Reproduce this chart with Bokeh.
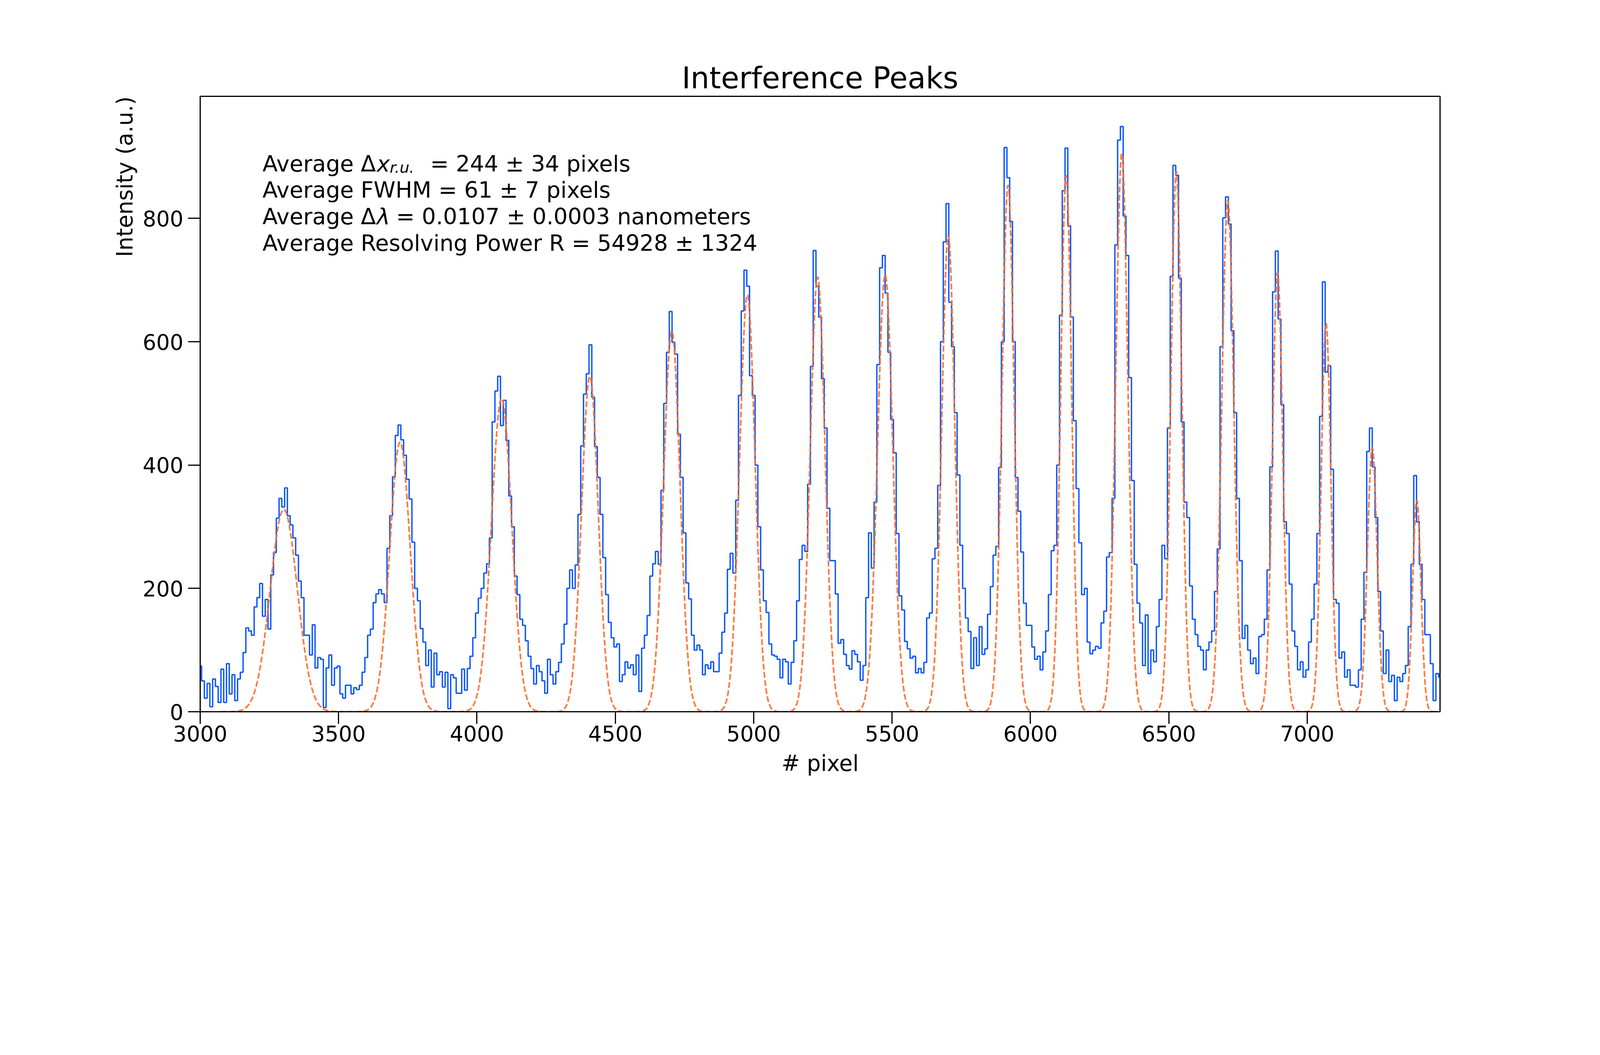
import numpy as np
from bokeh.plotting import figure
from bokeh.models import Range1d, SingleIntervalTicker, Label, Title
from bokeh.embed import file_html
from bokeh.resources import INLINE

pixel_start = 3000
pixel_step = 10
intensity = [
    74, 50, 22, 46, 8, 53, 41, 15, 69, 15,
    78, 29, 60, 18, 53, 64, 96, 136, 131, 124,
    170, 185, 208, 155, 182, 134, 222, 258, 314, 346,
    332, 363, 318, 303, 282, 254, 212, 185, 124, 124,
    92, 141, 71, 88, 85, 7, 71, 92, 43, 71,
    74, 29, 22, 43, 43, 29, 39, 36, 43, 64,
    88, 124, 134, 177, 191, 198, 191, 177, 265, 318,
    381, 448, 465, 441, 416, 377, 345, 275, 200, 180,
    135, 113, 75, 100, 40, 95, 60, 65, 40, 64,
    5, 60, 55, 30, 30, 69, 35, 70, 90, 120,
    160, 184, 200, 225, 240, 282, 470, 520, 544, 464,
    505, 440, 350, 300, 220, 190, 150, 140, 115, 90,
    70, 45, 75, 65, 50, 30, 85, 60, 45, 65,
    80, 110, 142, 200, 230, 200, 238, 320, 431, 515,
    548, 595, 510, 430, 380, 320, 250, 190, 145, 120,
    105, 110, 49, 60, 81, 71, 76, 60, 92, 33,
    103, 124, 156, 220, 240, 260, 239, 359, 500, 583,
    649, 599, 580, 450, 380, 290, 209, 183, 124, 100,
    108, 100, 60, 76, 70, 81, 65, 65, 95, 129,
    160, 231, 257, 225, 343, 513, 650, 716, 690, 545,
    513, 400, 300, 230, 180, 161, 110, 92, 90, 85,
    55, 85, 81, 45, 80, 115, 180, 247, 270, 260,
    369, 560, 748, 690, 640, 540, 460, 330, 245, 245,
    191, 111, 117, 93, 75, 69, 99, 93, 81, 51,
    75, 185, 290, 233, 340, 563, 720, 740, 679, 583,
    474, 420, 289, 188, 165, 114, 102, 87, 90, 63,
    70, 63, 80, 152, 160, 248, 265, 367, 600, 762,
    824, 664, 592, 485, 384, 270, 200, 152, 130, 70,
    120, 75, 138, 93, 102, 158, 203, 254, 268, 396,
    600, 915, 866, 795, 600, 380, 325, 259, 176, 140,
    140, 105, 85, 90, 68, 97, 131, 190, 261, 270,
    400, 643, 845, 914, 788, 640, 472, 362, 274, 190,
    200, 113, 94, 100, 106, 103, 144, 163, 251, 258,
    346, 757, 927, 949, 804, 740, 542, 375, 239, 176,
    144, 75, 157, 62, 100, 81, 138, 182, 270, 248,
    460, 706, 886, 870, 703, 470, 340, 315, 204, 150,
    125, 106, 100, 68, 100, 113, 131, 195, 264, 592,
    801, 835, 791, 618, 485, 346, 245, 119, 140, 100,
    78, 87, 62, 122, 125, 150, 230, 397, 681, 747,
    637, 498, 308, 289, 207, 131, 106, 68, 81, 56,
    68, 113, 150, 207, 289, 479, 697, 551, 561, 393,
    182, 176, 87, 97, 56, 68, 43, 43, 40, 68,
    150, 226, 422, 460, 397, 315, 195, 131, 62, 100,
    49, 59, 18, 56, 49, 62, 75, 138, 239, 383,
    308, 239, 182, 125, 125, 78, 18, 62, 56,
]

# gaussian fit of each fringe (center, height, sigma)
peak_center = [3302, 3722, 4089, 4408, 4704, 4977, 5231, 5475, 5703,
               5919, 6129, 6330, 6527, 6713, 6893, 7068, 7235, 7396]
peak_height = [328, 437, 508, 544, 617, 676, 705, 708, 772,
               854, 870, 905, 876, 829, 712, 630, 428, 343]
peak_sigma = [49, 37, 36.6, 30, 29.6, 28, 26.7, 27.6, 23.6,
              22, 19.6, 21.7, 19.6, 21.7, 18.6, 17.5, 17.5, 15]
fit_start = 3076

x_start, x_end = 3000, 7480
y_start, y_end = 0, 998

FONT = "DejaVu Sans"
BLUE = "#0a55ff"
ORANGE = "#ff6b2b"

# the browser page is narrower in css px than the 5400 px photo,
# so everything measured on the reference is scaled by S
S = 4096 / 5400
W = round(5400 * S) - 16
H = round(2700 * S) - 16


def fs(v):
    return "%.1fpx" % (v * S)


x = pixel_start + pixel_step * np.arange(len(intensity))

xf = np.arange(fit_start, x_end + 1, 1.0)
yf = np.zeros_like(xf)
for c, h, s in zip(peak_center, peak_height, peak_sigma):
    yf += h * np.exp(-(xf - c) ** 2 / (2.0 * s ** 2))

p = figure(width=W, height=H, title="Interference Peaks",
           x_range=Range1d(x_start, x_end), y_range=Range1d(y_start, y_end),
           output_backend="svg", toolbar_location=None,
           min_border_left=round(675 * S),
           min_border_right=W - round(4860 * S),
           min_border_top=round(324 * S),
           min_border_bottom=H - round(2401 * S))

p.step(x, intensity, mode="center", line_color=BLUE, line_width=4.6 * S)
p.line(xf, yf, line_color=ORANGE, line_width=5.6 * S, line_dash="15 6", line_alpha=0.9)

p.title.text_font = FONT
p.title.text_font_size = fs(100)
p.title.text_font_style = "normal"
p.title.text_color = "black"
p.title.align = "center"
p.title.standoff = round(8 * S)

p.xgrid.visible = False
p.ygrid.visible = False
p.outline_line_color = "black"
p.outline_line_width = 4 * S

p.xaxis.ticker = SingleIntervalTicker(interval=500, num_minor_ticks=0)
p.yaxis.ticker = SingleIntervalTicker(interval=200, num_minor_ticks=0)
for ax in (p.xaxis[0], p.yaxis[0]):
    ax.axis_line_color = "black"
    ax.axis_line_width = 4 * S
    ax.major_tick_line_width = 4 * S
    ax.major_tick_out = round(41 * S)
    ax.major_tick_in = 0
    ax.minor_tick_out = 0
    ax.minor_tick_in = 0
    ax.major_label_text_font = FONT
    ax.major_label_text_font_size = fs(72)
    ax.major_label_text_color = "black"
p.xaxis.major_label_standoff = round(5 * S)
p.yaxis.major_label_standoff = round(16 * S)

p.xaxis.axis_label = "# pixel"
p.xaxis.axis_label_text_font = FONT
p.xaxis.axis_label_text_font_size = fs(74)
p.xaxis.axis_label_text_font_style = "normal"
p.xaxis.axis_label_text_color = "black"
p.xaxis.axis_label_standoff = round(28 * S)

# y label sits at the top end of the axis
p.add_layout(Title(text="Intensity (a.u.)", align="right", text_font=FONT,
                   text_font_size=fs(74), text_font_style="normal",
                   text_color="black", standoff=round(28 * S)), "left")

# statistics block (data coordinates)
stats_x = 3225
stats_y = 889
line_gap = 43
txt = dict(text_font=FONT, text_font_size=fs(75), text_color="black",
           text_baseline="alphabetic")

p.add_layout(Label(x=stats_x, y=stats_y, text="Average Δ", **txt))
p.add_layout(Label(x=3638, y=stats_y, text="x", text_font_style="italic", **txt))
p.add_layout(Label(x=3685, y=stats_y - 6.3, text="r.u.", text_font_style="italic",
                   text_font=FONT, text_font_size=fs(52), text_color="black",
                   text_baseline="alphabetic"))
p.add_layout(Label(x=3831, y=stats_y, text="= 244 ± 34 pixels", **txt))

p.add_layout(Label(x=stats_x, y=stats_y - line_gap,
                   text="Average FWHM = 61 ± 7 pixels", **txt))

p.add_layout(Label(x=stats_x, y=stats_y - 2 * line_gap, text="Average Δ", **txt))
p.add_layout(Label(x=3638, y=stats_y - 2 * line_gap, text="λ",
                   text_font_style="italic", **txt))
p.add_layout(Label(x=3708, y=stats_y - 2 * line_gap,
                   text="= 0.0107 ± 0.0003 nanometers", **txt))

p.add_layout(Label(x=stats_x, y=stats_y - 3 * line_gap,
                   text="Average Resolving Power R = 54928 ± 1324", **txt))

open("out.html", "w").write(file_html(p, INLINE))
